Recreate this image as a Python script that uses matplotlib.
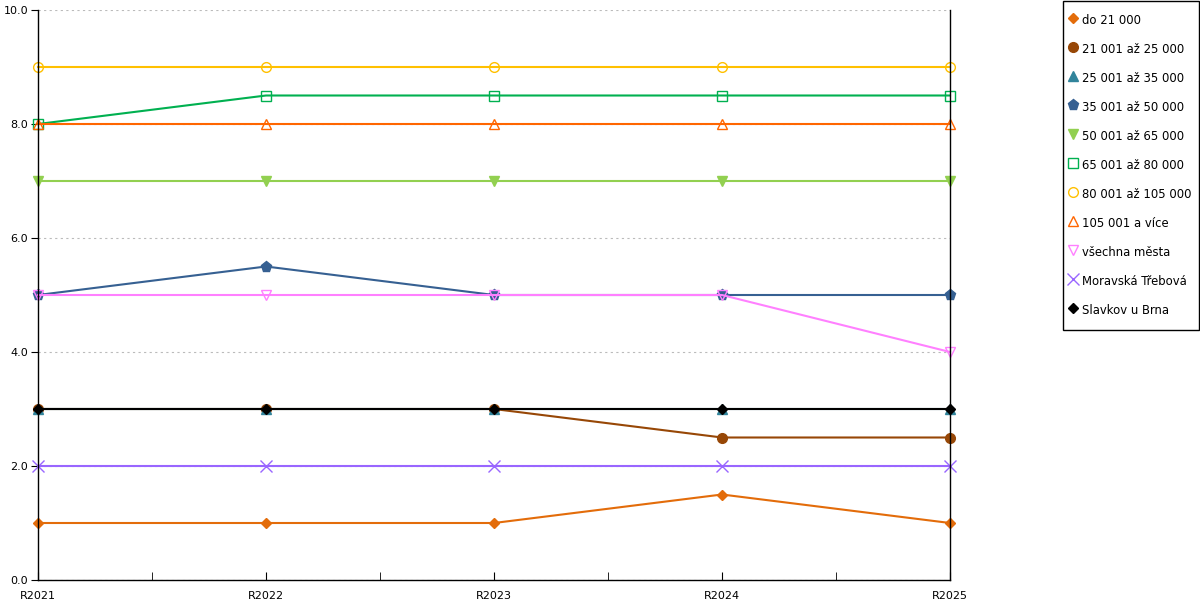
import matplotlib.pyplot as plt
from matplotlib.lines import Line2D
from matplotlib.patches import Rectangle
from matplotlib.ticker import MultipleLocator

years = ['R2021', 'R2022', 'R2023', 'R2024', 'R2025']

names = ['do 21 000', '21 001 až 25 000', '25 001 až 35 000', '35 001 až 50 000',
         '50 001 až 65 000', '65 001 až 80 000', '80 001 až 105 000', '105 001 a více',
         'všechna města', 'Moravská Třebová', 'Slavkov u Brna']

do_21 = [1, 1, 1, 1.5, 1]
s21_25 = [3, 3, 3, 2.5, 2.5]
s25_35 = [3, 3, 3, 3, 3]
s35_50 = [5, 5.5, 5, 5, 5]
s50_65 = [7, 7, 7, 7, 7]
s65_80 = [8, 8.5, 8.5, 8.5, 8.5]
s80_105 = [9, 9, 9, 9, 9]
s105 = [8, 8, 8, 8, 8]
vsechna = [5, 5, 5, 5, 4]
moravska = [2, 2, 2, 2, 2]
slavkov = [3, 3, 3, 3, 3]

series = [do_21, s21_25, s25_35, s35_50, s50_65, s65_80, s80_105, s105,
          vsechna, moravska, slavkov]

# colour, marker, size, filled
styles = [
    ('#e36c0a', 'D', 5.5, True),
    ('#974706', 'o', 7, True),
    ('#31849b', '^', 7, True),
    ('#366092', 'p', 8, True),
    ('#92d050', 'v', 7.5, True),
    ('#00b050', 's', 7, False),
    ('#ffc000', 'o', 7, False),
    ('#ff6600', '^', 7.5, False),
    ('#ff80ff', 'v', 7.5, False),
    ('#9966ff', 'x', 8, False),
    ('#000000', 'D', 5.5, True),
]

fig = plt.figure(figsize=(12, 6), dpi=100)
ax = fig.add_axes([38 / 1200, 20 / 600, 912 / 1200, 570 / 600])

x = list(range(len(years)))
handles = []
for name, vals, (c, m, ms, filled) in zip(names, series, styles):
    ax.plot(x, vals, color=c, lw=1.5, marker=m, markersize=ms,
            markerfacecolor=c if filled else 'none', markeredgecolor=c,
            markeredgewidth=1.0, clip_on=False)
    handles.append(Line2D([], [], linestyle='none', marker=m, markersize=ms,
                          color=c, markerfacecolor=c if filled else 'none',
                          markeredgecolor=c, markeredgewidth=1.0, label=name))

ax.set_xlim(0, len(years) - 1)
ax.set_ylim(0, 10)
ax.set_xticks(x)
ax.set_xticklabels(years)
ax.xaxis.set_minor_locator(MultipleLocator(0.5))
ax.tick_params(axis='x', which='both', direction='in', length=6, pad=8, labelsize=8)
ax.set_yticks([0, 2, 4, 6, 8, 10])
ax.set_yticklabels(['0.0', '2.0', '4.0', '6.0', '8.0', '10.0'])
ax.tick_params(axis='y', direction='out', length=5, pad=2, labelsize=8)
ax.grid(axis='y', color='#bbbbbb', linestyle=(0, (2, 3)), linewidth=0.8)
ax.set_axisbelow(True)
ax.spines['top'].set_visible(False)
for s in ['left', 'right', 'bottom']:
    ax.spines[s].set_color('black')
    ax.spines[s].set_linewidth(1.0)

# legend entries without frame, box drawn separately
fig.legend(handles=handles, loc='upper left', bbox_to_anchor=(1062 / 1200, 1 - 5 / 600),
           frameon=False, fontsize=8.4, labelspacing=1.0, handleheight=1.9,
           handlelength=0.6, handletextpad=0.5, borderpad=0.6, borderaxespad=0)
fig.patches.append(Rectangle((1062.5 / 1200, 270.5 / 600), 136 / 1200, 329 / 600,
                             transform=fig.transFigure, fill=False,
                             edgecolor='black', linewidth=1.0))

fig.savefig('out.png', dpi=100)
